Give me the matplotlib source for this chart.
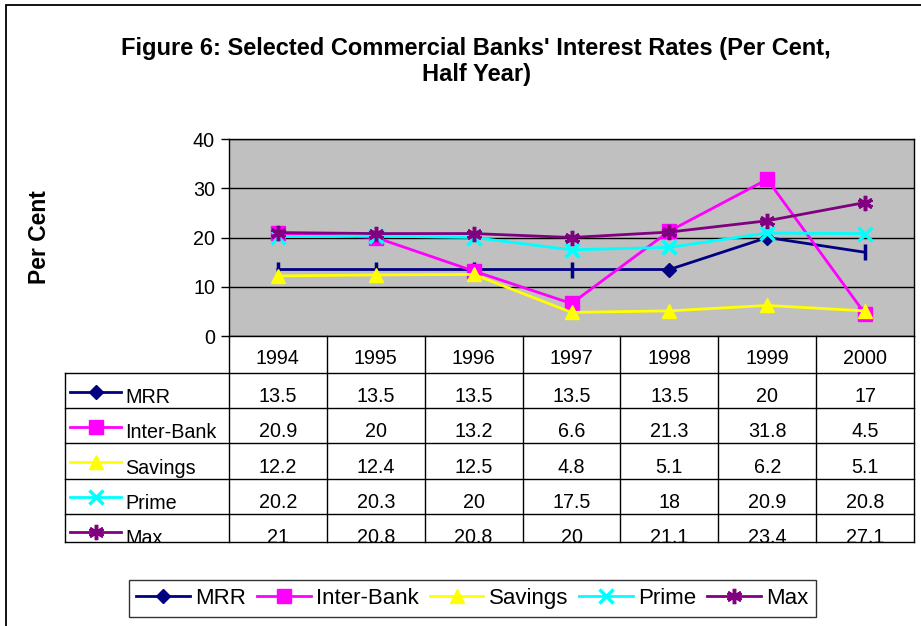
import numpy as np
import matplotlib
matplotlib.use("Agg")
import matplotlib.pyplot as plt
from matplotlib.lines import Line2D
from matplotlib.patches import Rectangle

plt.rcParams['font.family'] = ['Liberation Sans', 'DejaVu Sans']

# data
years = ['1994', '1995', '1996', '1997', '1998', '1999', '2000']
series_names = ['MRR', 'Inter-Bank', 'Savings', 'Prime', 'Max']
mrr = [13.5, 13.5, 13.5, 13.5, 13.5, 20, 17]
inter_bank = [20.9, 20, 13.2, 6.6, 21.3, 31.8, 4.5]
savings = [12.2, 12.4, 12.5, 4.8, 5.1, 6.2, 5.1]
prime = [20.2, 20.3, 20, 17.5, 18, 20.9, 20.8]
max_rate = [21, 20.8, 20.8, 20, 21.1, 23.4, 27.1]
values = [mrr, inter_bank, savings, prime, max_rate]

colors = ['#000080', '#FF00FF', '#FFFF00', '#00FFFF', '#800080']
markers = ['D', 's', '^', 'x', (6, 2, 0)]
msizes = [7, 10, 10, 10, 11]

W, H = 921, 626
fig = plt.figure(figsize=(W / 100, H / 100), dpi=100)

def box(l, t, r, b):
    return [l / W, 1 - b / H, (r - l) / W, (b - t) / H]

def edge_w(m):
    return 2.5 if m in ('x', (6, 2, 0)) else 1

FS = 14.2

# outer chart frame
fig.patches.append(Rectangle((6 / W, -0.1), 1.2, 1 - 5 / H + 0.1, transform=fig.transFigure,
                             fill=False, edgecolor='black', linewidth=1.3))

fig.text(476 / W, 1 - 48 / H, "Figure 6: Selected Commercial Banks' Interest Rates (Per Cent,",
         ha='center', va='center', fontsize=17, fontweight='bold')
fig.text(476 / W, 1 - 75 / H, "Half Year)", ha='center', va='center', fontsize=17, fontweight='bold')
fig.text(40 / W, 1 - 237 / H, 'Per Cent', rotation=90, ha='center', va='center',
         fontsize=16.5, fontweight='bold')

# plot area
ax = fig.add_axes(box(229, 139, 914, 336))
ax.set_facecolor('#C0C0C0')
x = np.arange(len(years))
ax.set_xlim(-0.5, len(years) - 0.5)
ax.set_ylim(0, 40)
ax.set_yticks([0, 10, 20, 30, 40])
ax.tick_params(axis='y', labelsize=FS, length=6, width=1, direction='out', pad=4)
ax.set_xticks([])
ax.grid(axis='y', color='black', linewidth=1)
ax.set_axisbelow(True)
for s in ax.spines.values():
    s.set_color('black')
    s.set_linewidth(1)

for i, (vals, c, m, ms) in enumerate(zip(values, colors, markers, msizes)):
    if i == 0:
        ax.plot(x, vals, color=c, linewidth=2, zorder=3)
        ax.plot(x[[0, 1, 2, 3, 6]], np.array(vals)[[0, 1, 2, 3, 6]], linestyle='none',
                marker='|', markersize=11, markeredgewidth=2.5, color=c, zorder=3)
        ax.plot(x[[4, 5]], np.array(vals)[[4, 5]], linestyle='none', marker=m,
                markersize=ms, color=c, zorder=3)
    else:
        ax.plot(x, vals, color=c, linewidth=2, marker=m, markersize=ms,
                markeredgewidth=edge_w(m), markeredgecolor=c, zorder=3 + i)

# data table under the plot
t_left, t_top, t_right, t_bottom = 65, 336, 914, 542
cat_w = (914 - 229) / len(years)
tab = fig.add_axes(box(t_left, t_top, t_right, t_bottom))
tab.set_xlim(-0.5 - (229 - t_left) / cat_w, len(years) - 0.5)
tab.set_ylim(t_bottom, t_top)
tab.axis('off')
x_lab = tab.get_xlim()[0]
head_h = 37
row_h = 35.2
lw = 1

tab.plot([len(years) - 0.5] * 2, [t_top, t_bottom], color='black', lw=lw, clip_on=False)
for k in range(len(years)):
    tab.plot([k - 0.5] * 2, [t_top, t_bottom], color='black', lw=lw, clip_on=False)
    tab.text(k, t_top + head_h / 2 + 3.5, years[k], ha='center', va='center', fontsize=FS)
tab.plot([x_lab] * 2, [t_top + head_h, t_bottom], color='black', lw=lw, clip_on=False)
for r in range(len(series_names) + 1):
    y = t_top + head_h + r * row_h
    if r == len(series_names):
        y = t_bottom
    tab.plot([x_lab, len(years) - 0.5], [y, y], color='black', lw=lw, clip_on=False)

px = 1 / cat_w
for r, (name, vals, c, m, ms) in enumerate(zip(series_names, values, colors, markers, msizes)):
    yr = t_top + head_h + (r + 0.5) * row_h
    tab.plot([x_lab + 5 * px, x_lab + 56 * px], [yr + 1, yr + 1], color=c, lw=2)
    tab.plot([x_lab + 30.5 * px], [yr + 1], marker=m, markersize=ms, color=c,
             markeredgewidth=edge_w(m), linestyle='none')
    tab.text(x_lab + 60 * px, yr + 7, name, ha='left', va='center', fontsize=FS, clip_on=True)
    for k, v in enumerate(vals):
        tab.text(k, yr + 6, f'{v:g}', ha='center', va='center', fontsize=FS, clip_on=True)

# legend
handles = [Line2D([], [], color=c, lw=2, marker=m, markersize=ms, markeredgewidth=edge_w(m))
           for c, m, ms in zip(colors, markers, msizes)]
leg = fig.legend(handles, series_names, loc='center', bbox_to_anchor=(472.5 / W, 1 - 598.5 / H),
                 ncol=5, fontsize=16, frameon=True, fancybox=False, edgecolor='black',
                 handlelength=2.4, handletextpad=0.25, columnspacing=0.5, borderpad=0.35,
                 borderaxespad=0)
leg.get_frame().set_linewidth(1)

fig.savefig('out.png', dpi=100)
